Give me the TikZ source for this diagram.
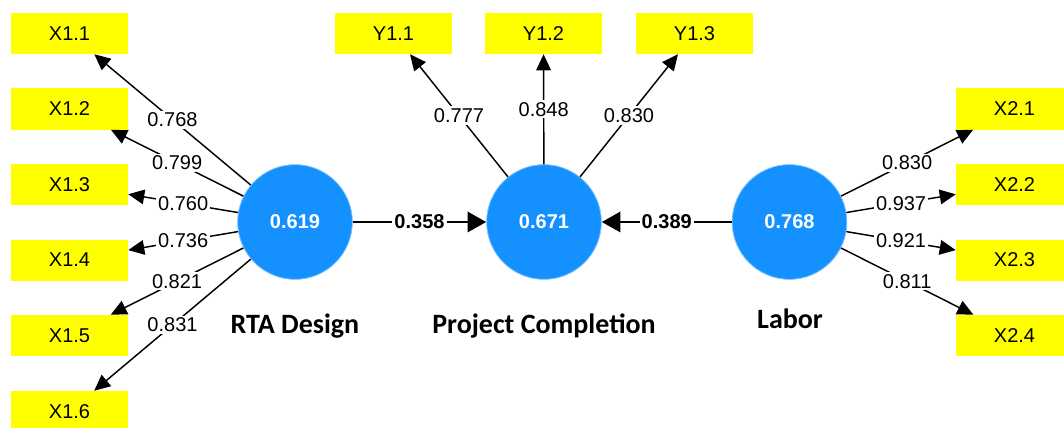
\documentclass[tikz,border=0pt]{standalone}
\usepackage{fontspec}
\setmainfont{Liberation Sans}
\newfontfamily\carlito{Carlito}
\usetikzlibrary{arrows.meta}
\definecolor{lvblue}{RGB}{20,145,255}
\definecolor{indyellow}{RGB}{255,255,0}
\tikzset{every node/.style={font=\fontsize{15}{18}\selectfont, inner sep=1pt},
  indicator/.style={fill=indyellow, minimum width=87.75pt, minimum height=30.75pt},
  latent/.style={circle, fill=lvblue, draw=lvblue!55, line width=0.6pt, minimum size=86pt, text=white, font=\fontsize{15}{18}\selectfont\bfseries},
  lvname/.style={font=\carlito\fontsize{21}{24}\selectfont\bfseries, anchor=base},
  loading/.style={line width=1.1pt, -{Triangle[length=12pt,width=11pt]}},
  structural/.style={line width=2.2pt, -{Triangle[length=14pt,width=15pt]}},
  weight/.style={fill=white, inner sep=1.5pt},
  coef/.style={fill=white, inner sep=1.5pt, font=\fontsize{15}{18}\selectfont\bfseries}}

\begin{document}
\begin{tikzpicture}[x=0.75pt,y=-0.75pt]
  \useasboundingbox (0,0) rectangle (1064,428);
  % latent variables
  \node[latent] (rta) at (295,222) {0.619};
  \node[latent] (pc) at (544,222) {0.671};
  \node[latent] (lab) at (789.5,222) {0.768};
  \node[lvname] (rtaname) at (295,333) {RTA Design};
  \node[lvname] (pcname) at (544,333) {Project Completion};
  \node[lvname] (labname) at (790,328) {Labor};
  % RTA Design indicators
  \foreach \i/\y/\w in {1/33.5/0.768,2/109/0.799,3/184.5/0.760,4/260/0.736,5/335.5/0.821,6/411.5/0.831} {
    \node[indicator] (x1\i) at (69.5,\y) {X1.\i};
    \draw[loading] (rta) -- node[weight] {\w} (x1\i);
  }
  % Project Completion indicators
  \foreach \i/\x/\w in {1/393.5/0.777,2/543.5/0.848,3/694.5/0.830} {
    \node[indicator] (y1\i) at (\x,33.5) {Y1.\i};
    \draw[loading] (pc) -- node[weight] {\w} (y1\i);
  }
  % Labor indicators
  \foreach \i/\y/\w in {1/109/0.830,2/184.5/0.937,3/260/0.921,4/335.5/0.811} {
    \node[indicator] (x2\i) at (1014.5,\y) {X2.\i};
    \draw[loading] (lab) -- node[weight] {\w} (x2\i);
  }
  % inner model
  \draw[structural] (rta) -- node[coef] {0.358} (pc);
  \draw[structural] (lab) -- node[coef] {0.389} (pc);
\end{tikzpicture}
\end{document}
